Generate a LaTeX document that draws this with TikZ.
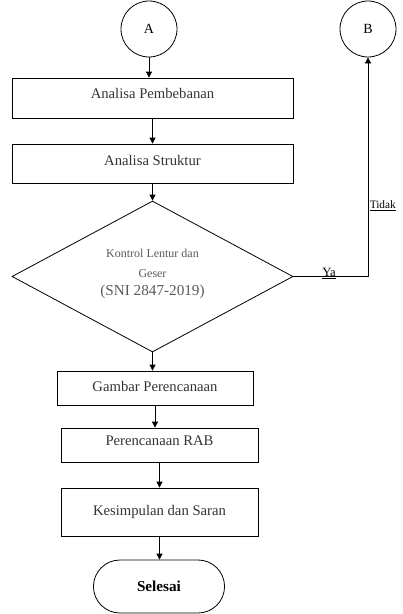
\documentclass[tikz,border=0pt]{standalone}
\usepackage{fontspec}
\setmainfont{Liberation Serif}
\usetikzlibrary{arrows.meta, shapes.geometric, shapes.misc}
\definecolor{txtgray}{HTML}{333333}
\definecolor{diagray}{HTML}{5A5A5A}

\begin{document}
\begin{tikzpicture}[
  x=0.75pt, y=-0.75pt,
  blk/.style={draw, line width=0.6pt, rectangle, align=center, inner sep=2pt,
               text=txtgray, font=\fontsize{11}{13}\selectfont},
  con/.style={draw, line width=0.6pt, circle, minimum size=42pt, inner sep=0pt,
               font=\fontsize{10.5}{12}\selectfont},
  arr/.style={line width=0.6pt, -{Triangle[length=4.5pt, width=4.5pt]}}
]
\useasboundingbox (0,0) rectangle (403,614);
\node[con] (A) at (149, 29) {A};
\node[con] (B) at (368, 29) {B};
\node[blk, minimum width=210.75pt, minimum height=30pt, text depth=7.5pt] (pb) at (152.5, 98) {Analisa Pembebanan};
\node[blk, minimum width=210.75pt, minimum height=29.25pt, text depth=5.25pt] (st) at (152.5, 163.5) {Analisa Struktur};
\node[draw, line width=0.6pt, diamond, inner sep=0pt, minimum width=210.75pt, minimum height=113.25pt] (dia) at (152.5, 276.5) {};
\node[align=center, inner sep=0pt, text=diagray, font=\fontsize{9}{11}\selectfont] (diatxt) at (152.5, 274)
      {Kontrol Lentur dan\\[4pt]Geser\\[2pt]{\fontsize{11.4}{13}\selectfont (SNI 2847-2019)}};
\node[blk, minimum width=147pt, minimum height=25.5pt, text depth=3pt] (gp) at (155, 388) {Gambar Perencanaan};
\node[blk, minimum width=147.75pt, minimum height=25.5pt, text depth=6pt] (rab) at (159.5, 445) {Perencanaan RAB};
\node[blk, minimum width=147.75pt, minimum height=36pt] (ks) at (159.5, 512) {Kesimpulan dan Saran};
\node[draw, line width=0.6pt, rounded rectangle, minimum width=105pt, minimum height=39.75pt,
      font=\fontsize{11.4}{13}\selectfont\bfseries] (end) at (159, 586.5) {Selesai};
\draw[arr] (A.south) -- (A.south |- pb.north);
\draw[arr] (pb) -- (st);
\draw[arr] (st) -- (dia);
\draw[arr] (dia.south) -- (dia.south |- gp.north);
\draw[arr] (gp.south) -- (gp.south |- rab.north);
\draw[arr] (rab) -- (ks);
\draw[arr] (ks.south) -- (ks.south |- end.north);
\draw[arr] (dia.east) -| (B.south);
\node[anchor=base west, inner sep=0pt, font=\fontsize{9.5}{11}\selectfont] (ya) at (322, 276.5) {\underline{Ya}};
\node[anchor=base west, inner sep=0pt, font=\fontsize{8.5}{10}\selectfont] (tidak) at (369.5, 208) {\underline{Tidak}};
\end{tikzpicture}
\end{document}
